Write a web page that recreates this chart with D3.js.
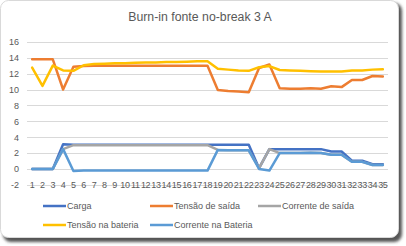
<!DOCTYPE html>
<html>
<head>
<meta charset="utf-8">
<script src="https://cdn.jsdelivr.net/npm/d3@7/dist/d3.min.js"></script>
<style>
	html, body { margin: 0; padding: 0; background: #fff; }
	text { font-family: 'Liberation Sans', Arial, sans-serif; fill: #595959; }
</style>
</head>
<body>
<div id="chart"></div>
<script>
const width = 406
const height = 246

const categories = d3.range(1, 36).map(String)
const yTicks = [-2, 0, 2, 4, 6, 8, 10, 12, 14, 16]

const carga = [0, 0, 0, 3.1, 3.05, 3.05, 3.05, 3.05, 3.05, 3.05, 3.05, 3.05, 3.05, 3.05, 3.05, 3.05, 3.05, 3.05,
	3.05, 3.05, 3.05, 3.05, 0.1, 2.5, 2.5, 2.5, 2.5, 2.5, 2.5, 2.2, 2.2, 1.05, 1.05, 0.6, 0.6]
const tensaoSaida = [13.8, 13.8, 13.8, 10.0, 12.85, 12.95, 13.0, 13.0, 13.0, 13.0, 13.0, 13.0, 13.0, 13.0, 13.0, 13.0, 13.0, 13.0,
	9.95, 9.8, 9.75, 9.65, 12.7, 13.15, 10.15, 10.1, 10.1, 10.15, 10.1, 10.4, 10.3, 11.2, 11.2, 11.7, 11.65]
const correnteSaida = [0, 0, 0, 2.5, 3.0, 3.0, 3.0, 3.0, 3.0, 3.0, 3.0, 3.0, 3.0, 3.0, 3.0, 3.0, 3.0, 3.0,
	2.4, 2.35, 2.35, 2.35, 0.1, 2.5, 2.0, 2.0, 2.0, 2.05, 2.0, 1.8, 1.8, 0.9, 0.9, 0.5, 0.5]
const tensaoBateria = [12.75, 10.45, 13.0, 12.4, 12.35, 13.05, 13.2, 13.25, 13.3, 13.3, 13.35, 13.4, 13.4, 13.45, 13.45, 13.5, 13.55, 13.55,
	12.6, 12.5, 12.4, 12.35, 12.8, 12.95, 12.45, 12.4, 12.35, 12.3, 12.25, 12.25, 12.25, 12.4, 12.4, 12.5, 12.55]
const correnteBateria = [0, 0, 0, 2.5, -0.25, -0.2, -0.2, -0.2, -0.2, -0.2, -0.2, -0.2, -0.2, -0.2, -0.2, -0.2, -0.2, -0.2,
	2.4, 2.35, 2.35, 2.35, 0.0, -0.2, 2.0, 2.0, 2.0, 2.05, 2.0, 1.8, 1.8, 0.9, 0.9, 0.5, 0.5]

const series = [
	{ name: 'Carga', values: carga, color: '#4472C4' },
	{ name: 'Tensão de saída', values: tensaoSaida, color: '#ED7D31' },
	{ name: 'Corrente de saída', values: correnteSaida, color: '#A5A5A5' },
	{ name: 'Tensão na bateria', values: tensaoBateria, color: '#FFC000' },
	{ name: 'Corrente na Bateria', values: correnteBateria, color: '#5B9BD5' },
]

const svg = d3.select('#chart').append('svg')
	.attr('width', width)
	.attr('height', height)

// card with shadow
const defs = svg.append('defs')
const f = defs.append('filter').attr('id', 'shadow').attr('x', '-10%').attr('y', '-10%').attr('width', '120%').attr('height', '120%')
f.append('feGaussianBlur').attr('stdDeviation', 1.6)

svg.append('rect')
	.attr('x', 3).attr('y', 3).attr('width', 399).attr('height', 239)
	.attr('rx', 8).attr('fill', '#555').attr('filter', 'url(#shadow)')
svg.append('rect')
	.attr('x', 0.5).attr('y', 0.5).attr('width', 398).attr('height', 237)
	.attr('rx', 8).attr('fill', '#fff').attr('stroke', '#d9d9d9')

svg.append('text')
	.attr('x', 200).attr('y', 21)
	.attr('text-anchor', 'middle')
	.attr('font-size', 12.3)
	.text('Burn-in fonte no-break 3 A')

const x = d3.scaleBand().domain(categories).range([27, 388])
const cx = (i) => x(categories[i]) + x.bandwidth() / 2
const y = d3.scaleLinear().domain([-2, 16]).range([184.9, 41.8])

// gridlines
svg.append('g')
	.selectAll('line')
	.data(yTicks)
	.join('line')
	.attr('x1', 27).attr('x2', 388)
	.attr('y1', (d) => Math.round(y(d)) + 0.5)
	.attr('y2', (d) => Math.round(y(d)) + 0.5)
	.attr('stroke', '#d9d9d9')
	.attr('stroke-width', 1)

// y labels
svg.append('g')
	.selectAll('text')
	.data(yTicks)
	.join('text')
	.attr('x', 19)
	.attr('y', (d) => y(d) + 3.3)
	.attr('text-anchor', 'end')
	.attr('font-size', 9)
	.text((d) => d)

// x labels
svg.append('g')
	.selectAll('text')
	.data(categories)
	.join('text')
	.attr('x', (d, i) => cx(i))
	.attr('y', 188)
	.attr('text-anchor', 'middle')
	.attr('font-size', 9)
	.attr('letter-spacing', -0.3)
	.text((d) => d)

const line = d3.line().x((d, i) => cx(i)).y((d) => y(d))

svg.append('g')
	.selectAll('path')
	.data(series)
	.join('path')
	.attr('d', (d) => line(d.values))
	.attr('fill', 'none')
	.attr('stroke', (d) => d.color)
	.attr('stroke-width', 2.5)
	.attr('stroke-linejoin', 'round')
	.attr('stroke-linecap', 'round')

// legend
const legendPos = [[43, 206], [150, 206], [258, 206], [43, 225], [150, 225]]
const lg = svg.append('g')
	.selectAll('g')
	.data(series)
	.join('g')
	.attr('transform', (d, i) => `translate(${legendPos[i][0]},${legendPos[i][1]})`)
lg.append('line')
	.attr('x1', 0).attr('x2', 23)
	.attr('stroke', (d) => d.color)
	.attr('stroke-width', 2.5)
lg.append('text')
	.attr('x', 24).attr('y', 3.3)
	.attr('font-size', 9)
	.text((d) => d.name)
</script>
</body>
</html>
